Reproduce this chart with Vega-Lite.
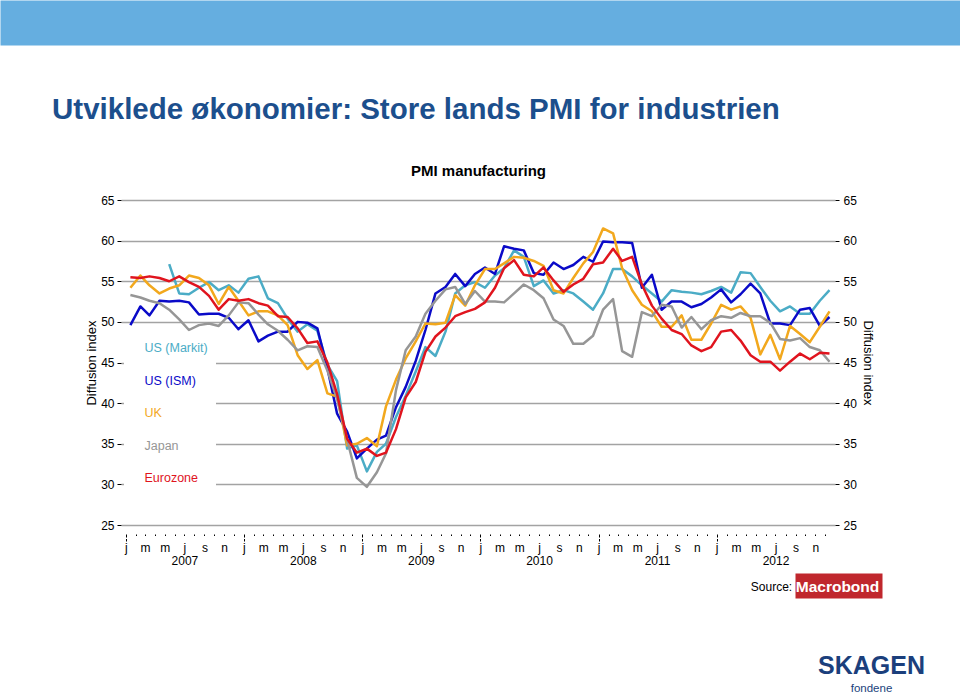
{
  "$schema": "https://vega.github.io/schema/vega-lite/v6.json",
  "width": 714,
  "height": 325,
  "autosize": {"type": "none"},
  "padding": {"left": 121, "top": 200, "right": 125, "bottom": 167},
  "background": "white",
  "config": {
    "font": "Liberation Sans, Arial, sans-serif",
    "view": {"stroke": null},
    "axis": {"labelFont": "Liberation Sans, Arial, sans-serif", "titleFont": "Liberation Sans, Arial, sans-serif", "labelColor": "#000", "titleColor": "#000"}
  },
  "title": {
    "text": "Utviklede økonomier: Store lands PMI for industrien",
    "anchor": "start",
    "frame": "group",
    "dx": -69,
    "dy": 166,
    "offset": 41,
    "fontSize": 29.5,
    "font": "Liberation Sans Narrow, Arial Narrow, Liberation Sans, Arial",
    "fontWeight": "bold",
    "color": "#1c4f8d"
  },
  "data": {
    "values": [
      {"d": "2007-01-15", "US (Markit)": null, "US (ISM)": 49.6, "UK": 54.2, "Japan": 53.3, "Eurozone": 55.5},
      {"d": "2007-02-15", "US (Markit)": null, "US (ISM)": 51.9, "UK": 55.7, "Japan": 53.0, "Eurozone": 55.4},
      {"d": "2007-03-15", "US (Markit)": null, "US (ISM)": 50.8, "UK": 54.5, "Japan": 52.6, "Eurozone": 55.6},
      {"d": "2007-04-15", "US (Markit)": null, "US (ISM)": 52.6, "UK": 53.5, "Japan": 52.3, "Eurozone": 55.4},
      {"d": "2007-05-15", "US (Markit)": 57.1, "US (ISM)": 52.5, "UK": 54.1, "Japan": 51.5, "Eurozone": 55.0},
      {"d": "2007-06-15", "US (Markit)": 53.5, "US (ISM)": 52.6, "UK": 54.5, "Japan": 50.3, "Eurozone": 55.6},
      {"d": "2007-07-15", "US (Markit)": 53.4, "US (ISM)": 52.4, "UK": 55.7, "Japan": 49.0, "Eurozone": 54.9},
      {"d": "2007-08-15", "US (Markit)": 54.2, "US (ISM)": 50.9, "UK": 55.4, "Japan": 49.6, "Eurozone": 54.3},
      {"d": "2007-09-15", "US (Markit)": 54.9, "US (ISM)": 51.0, "UK": 54.5, "Japan": 49.8, "Eurozone": 53.2},
      {"d": "2007-10-15", "US (Markit)": 53.9, "US (ISM)": 51.0, "UK": 52.2, "Japan": 49.5, "Eurozone": 51.5},
      {"d": "2007-11-15", "US (Markit)": 54.5, "US (ISM)": 50.5, "UK": 54.3, "Japan": 50.8, "Eurozone": 52.8},
      {"d": "2007-12-15", "US (Markit)": 53.6, "US (ISM)": 49.1, "UK": 52.6, "Japan": 52.4, "Eurozone": 52.6},
      {"d": "2008-01-15", "US (Markit)": 55.3, "US (ISM)": 50.2, "UK": 50.8, "Japan": 52.3, "Eurozone": 52.8},
      {"d": "2008-02-15", "US (Markit)": 55.6, "US (ISM)": 47.6, "UK": 51.3, "Japan": 50.9, "Eurozone": 52.3},
      {"d": "2008-03-15", "US (Markit)": 52.9, "US (ISM)": 48.3, "UK": 51.3, "Japan": 49.7, "Eurozone": 52.0},
      {"d": "2008-04-15", "US (Markit)": 52.3, "US (ISM)": 48.8, "UK": 50.8, "Japan": 48.9, "Eurozone": 50.7},
      {"d": "2008-05-15", "US (Markit)": 50.4, "US (ISM)": 48.8, "UK": 49.6, "Japan": 47.8, "Eurozone": 50.6},
      {"d": "2008-06-15", "US (Markit)": 48.8, "US (ISM)": 50.0, "UK": 45.9, "Japan": 46.5, "Eurozone": 49.2},
      {"d": "2008-07-15", "US (Markit)": 49.7, "US (ISM)": 49.9, "UK": 44.2, "Japan": 47.0, "Eurozone": 47.4},
      {"d": "2008-08-15", "US (Markit)": 48.9, "US (ISM)": 49.2, "UK": 45.3, "Japan": 46.9, "Eurozone": 47.6},
      {"d": "2008-09-15", "US (Markit)": 44.7, "US (ISM)": 44.3, "UK": 41.2, "Japan": 44.0, "Eurozone": 45.0},
      {"d": "2008-10-15", "US (Markit)": 42.7, "US (ISM)": 38.7, "UK": 40.8, "Japan": 40.5, "Eurozone": 41.1},
      {"d": "2008-11-15", "US (Markit)": 34.4, "US (ISM)": 36.5, "UK": 34.8, "Japan": 35.5, "Eurozone": 35.6},
      {"d": "2008-12-15", "US (Markit)": 34.8, "US (ISM)": 33.2, "UK": 35.0, "Japan": 30.8, "Eurozone": 33.9},
      {"d": "2009-01-15", "US (Markit)": 31.6, "US (ISM)": 34.4, "UK": 35.7, "Japan": 29.7, "Eurozone": 34.4},
      {"d": "2009-02-15", "US (Markit)": 34.0, "US (ISM)": 35.5, "UK": 34.7, "Japan": 31.5, "Eurozone": 33.5},
      {"d": "2009-03-15", "US (Markit)": 35.0, "US (ISM)": 36.0, "UK": 39.6, "Japan": 33.8, "Eurozone": 33.9},
      {"d": "2009-04-15", "US (Markit)": 38.3, "US (ISM)": 39.5, "UK": 42.9, "Japan": 41.6, "Eurozone": 36.8},
      {"d": "2009-05-15", "US (Markit)": 40.9, "US (ISM)": 42.0, "UK": 45.5, "Japan": 46.5, "Eurozone": 40.7},
      {"d": "2009-06-15", "US (Markit)": 43.9, "US (ISM)": 45.2, "UK": 47.6, "Japan": 48.2, "Eurozone": 42.6},
      {"d": "2009-07-15", "US (Markit)": 46.9, "US (ISM)": 49.0, "UK": 49.8, "Japan": 51.0, "Eurozone": 46.3},
      {"d": "2009-08-15", "US (Markit)": 45.8, "US (ISM)": 53.5, "UK": 49.7, "Japan": 52.6, "Eurozone": 48.2},
      {"d": "2009-09-15", "US (Markit)": 48.8, "US (ISM)": 54.3, "UK": 49.9, "Japan": 54.0, "Eurozone": 49.3},
      {"d": "2009-10-15", "US (Markit)": 53.5, "US (ISM)": 55.9, "UK": 53.3, "Japan": 54.3, "Eurozone": 50.7},
      {"d": "2009-11-15", "US (Markit)": 54.5, "US (ISM)": 54.4, "UK": 52.0, "Japan": 52.2, "Eurozone": 51.2},
      {"d": "2009-12-15", "US (Markit)": 54.9, "US (ISM)": 55.9, "UK": 54.5, "Japan": 53.8, "Eurozone": 51.6},
      {"d": "2010-01-15", "US (Markit)": 54.2, "US (ISM)": 56.7, "UK": 56.5, "Japan": 52.5, "Eurozone": 52.4},
      {"d": "2010-02-15", "US (Markit)": 55.7, "US (ISM)": 55.9, "UK": 56.5, "Japan": 52.5, "Eurozone": 54.2},
      {"d": "2010-03-15", "US (Markit)": 56.6, "US (ISM)": 59.3, "UK": 57.2, "Japan": 52.4, "Eurozone": 56.6},
      {"d": "2010-04-15", "US (Markit)": 58.8, "US (ISM)": 59.0, "UK": 58.0, "Japan": 53.5, "Eurozone": 57.6},
      {"d": "2010-05-15", "US (Markit)": 58.0, "US (ISM)": 58.8, "UK": 57.9, "Japan": 54.6, "Eurozone": 55.8},
      {"d": "2010-06-15", "US (Markit)": 54.4, "US (ISM)": 56.0, "UK": 57.5, "Japan": 53.9, "Eurozone": 55.6},
      {"d": "2010-07-15", "US (Markit)": 55.1, "US (ISM)": 55.8, "UK": 56.9, "Japan": 52.9, "Eurozone": 56.7},
      {"d": "2010-08-15", "US (Markit)": 53.5, "US (ISM)": 57.3, "UK": 53.9, "Japan": 50.3, "Eurozone": 55.1},
      {"d": "2010-09-15", "US (Markit)": 53.9, "US (ISM)": 56.5, "UK": 53.5, "Japan": 49.5, "Eurozone": 53.7},
      {"d": "2010-10-15", "US (Markit)": 53.5, "US (ISM)": 57.0, "UK": 55.4, "Japan": 47.3, "Eurozone": 54.6},
      {"d": "2010-11-15", "US (Markit)": 52.5, "US (ISM)": 58.0, "UK": 57.2, "Japan": 47.3, "Eurozone": 55.3},
      {"d": "2010-12-15", "US (Markit)": 51.5, "US (ISM)": 57.4, "UK": 58.6, "Japan": 48.3, "Eurozone": 57.1},
      {"d": "2011-01-15", "US (Markit)": 53.5, "US (ISM)": 59.9, "UK": 61.5, "Japan": 51.5, "Eurozone": 57.3},
      {"d": "2011-02-15", "US (Markit)": 56.5, "US (ISM)": 59.8, "UK": 60.9, "Japan": 52.8, "Eurozone": 59.0},
      {"d": "2011-03-15", "US (Markit)": 56.5, "US (ISM)": 59.8, "UK": 56.6, "Japan": 46.4, "Eurozone": 57.5},
      {"d": "2011-04-15", "US (Markit)": 55.6, "US (ISM)": 59.7, "UK": 53.9, "Japan": 45.7, "Eurozone": 58.0},
      {"d": "2011-05-15", "US (Markit)": 54.5, "US (ISM)": 54.2, "UK": 52.1, "Japan": 51.2, "Eurozone": 54.6},
      {"d": "2011-06-15", "US (Markit)": 53.5, "US (ISM)": 55.8, "UK": 51.3, "Japan": 50.7, "Eurozone": 52.0},
      {"d": "2011-07-15", "US (Markit)": 52.5, "US (ISM)": 51.5, "UK": 49.4, "Japan": 52.1, "Eurozone": 50.4},
      {"d": "2011-08-15", "US (Markit)": 53.9, "US (ISM)": 52.5, "UK": 49.4, "Japan": 51.9, "Eurozone": 49.0},
      {"d": "2011-09-15", "US (Markit)": 53.7, "US (ISM)": 52.5, "UK": 50.8, "Japan": 49.3, "Eurozone": 48.5},
      {"d": "2011-10-15", "US (Markit)": 53.6, "US (ISM)": 51.8, "UK": 47.8, "Japan": 50.6, "Eurozone": 47.1},
      {"d": "2011-11-15", "US (Markit)": 53.4, "US (ISM)": 52.2, "UK": 47.8, "Japan": 49.1, "Eurozone": 46.4},
      {"d": "2011-12-15", "US (Markit)": 53.8, "US (ISM)": 53.0, "UK": 49.8, "Japan": 50.2, "Eurozone": 46.9},
      {"d": "2012-01-15", "US (Markit)": 54.3, "US (ISM)": 54.0, "UK": 52.1, "Japan": 50.7, "Eurozone": 48.8},
      {"d": "2012-02-15", "US (Markit)": 53.6, "US (ISM)": 52.4, "UK": 51.5, "Japan": 50.5, "Eurozone": 49.0},
      {"d": "2012-03-15", "US (Markit)": 56.1, "US (ISM)": 53.4, "UK": 51.9, "Japan": 51.1, "Eurozone": 47.7},
      {"d": "2012-04-15", "US (Markit)": 56.0, "US (ISM)": 54.7, "UK": 50.5, "Japan": 50.7, "Eurozone": 45.9},
      {"d": "2012-05-15", "US (Markit)": 54.3, "US (ISM)": 53.5, "UK": 46.0, "Japan": 50.7, "Eurozone": 45.1},
      {"d": "2012-06-15", "US (Markit)": 52.6, "US (ISM)": 49.8, "UK": 48.4, "Japan": 49.9, "Eurozone": 45.1},
      {"d": "2012-07-15", "US (Markit)": 51.3, "US (ISM)": 49.8, "UK": 45.4, "Japan": 47.9, "Eurozone": 44.0},
      {"d": "2012-08-15", "US (Markit)": 51.9, "US (ISM)": 49.6, "UK": 49.5, "Japan": 47.7, "Eurozone": 45.1},
      {"d": "2012-09-15", "US (Markit)": 51.0, "US (ISM)": 51.5, "UK": 48.5, "Japan": 48.0, "Eurozone": 46.1},
      {"d": "2012-10-15", "US (Markit)": 51.0, "US (ISM)": 51.7, "UK": 47.5, "Japan": 46.9, "Eurozone": 45.4},
      {"d": "2012-11-15", "US (Markit)": 52.6, "US (ISM)": 49.5, "UK": 49.4, "Japan": 46.5, "Eurozone": 46.2},
      {"d": "2012-12-15", "US (Markit)": 53.9, "US (ISM)": 50.6, "UK": 51.3, "Japan": 45.1, "Eurozone": 46.1}
    ]
  },
  "transform": [
    {"fold": ["US (Markit)", "US (ISM)", "UK", "Japan", "Eurozone"], "as": ["series", "value"]}
  ],
  "layer": [
    {
      "mark": {"type": "line", "strokeWidth": 2.5, "strokeJoin": "round"},
      "encoding": {
        "x": {
          "field": "d", "type": "temporal",
          "scale": {"domain": [{"year": 2006, "month": 12, "date": 17}, {"year": 2012, "month": 12, "date": 31, "hours": 23}]},
          "axis": {
            "orient": "bottom", "grid": false, "domain": false, "offset": 9, "zindex": 2,
            "tickCount": {"interval": "month", "step": 1},
            "tickSize": 7, "tickColor": "#000", "tickWidth": 1,
            "tickDash": {"condition": {"test": "month(datum.value) == 0", "value": [3, 1.5]}, "value": [1.5, 20]},
            "labelExpr": "month(datum.value) % 2 == 0 ? lower(slice(timeFormat(datum.value, '%b'), 0, 1)) : ''",
            "labelFontSize": 12, "labelPadding": 1, "labelFlush": false, "labelOverlap": false,
            "title": "Macrobond", "titleX": 716, "titleY": 57, "titleAlign": "center", "titleBaseline": "alphabetic",
            "titleColor": "white", "titleFontWeight": "bold", "titleFontSize": 15.5
          }
        },
        "y": {
          "field": "value", "type": "quantitative",
          "scale": {"domain": [25, 65], "nice": false, "zero": false},
          "axis": {
            "orient": "left", "values": [25, 30, 35, 40, 45, 50, 55, 60, 65],
            "grid": true, "gridColor": "#a3a3a3", "gridWidth": 1.5, "domain": false,
            "tickSize": 4, "tickColor": "#000", "labelFontSize": 12, "labelPadding": 3,
            "title": "Diffusion index", "titleFontSize": 13, "titleFontWeight": "normal", "titlePadding": 2
          }
        },
        "color": {
          "field": "series", "type": "nominal",
          "scale": {
            "domain": ["US (Markit)", "US (ISM)", "UK", "Japan", "Eurozone"],
            "range": ["#4bacc6", "#0a0ac8", "#f2a81d", "#969696", "#e0141e"]
          },
          "legend": {
            "orient": "none", "legendX": 3, "legendY": 134, "title": null,
            "symbolSize": 0, "symbolOpacity": 0, "symbolStrokeWidth": 0, "labelOffset": 0,
            "labelFontSize": 12.5, "rowPadding": 19.5, "padding": 8, "fillColor": "white",
            "encode": {"labels": {"update": {"fill": {"scale": "color", "field": "value"}}}}
          }
        }
      }
    },
    {
      "mark": {"type": "point", "opacity": 0},
      "encoding": {
        "x": {
          "field": "d", "type": "temporal",
          "axis": {
            "orient": "bottom", "grid": false, "domain": false, "ticks": false, "offset": 9,
            "values": [{"year": 2007, "month": 7, "date": 1}, {"year": 2008, "month": 7, "date": 1}, {"year": 2009, "month": 7, "date": 1}, {"year": 2010, "month": 7, "date": 1}, {"year": 2011, "month": 7, "date": 1}, {"year": 2012, "month": 7, "date": 1}],
            "format": "%Y", "labelFontSize": 12, "labelPadding": 21, "labelFlush": false, "labelOverlap": false,
            "title": "Source:", "titleX": 650, "titleY": 56, "titleAlign": "center", "titleBaseline": "alphabetic",
            "titleFontSize": 12, "titleFontWeight": "normal"
          }
        },
        "y": {
          "field": "value", "type": "quantitative",
          "axis": {
            "orient": "right", "values": [25, 30, 35, 40, 45, 50, 55, 60, 65],
            "grid": false, "domain": false, "tickSize": 4, "tickColor": "#000",
            "labelFontSize": 12, "labelPadding": 4,
            "title": "Diffusion index", "titleFontSize": 13, "titleFontWeight": "normal", "titlePadding": 4
          }
        }
      }
    },
    {
      "mark": {"type": "point", "opacity": 0},
      "encoding": {
        "x": {
          "field": "d", "type": "temporal",
          "axis": {
            "orient": "top", "title": "PMI manufacturing", "grid": false, "domain": false, "ticks": false, "labels": false,
            "titleFontSize": 15, "titleFontWeight": "bold", "titlePadding": 22
          }
        },
        "y": {
          "field": "value", "type": "quantitative",
          "axis": {
            "orient": "left", "offset": -761, "values": [25], "tickOffset": 60.5, "grid": false, "domain": false, "labels": false, "title": null,
            "tickSize": 87, "tickWidth": 25, "tickColor": "#c0272d", "tickRound": false
          }
        }
      }
    },
    {
      "mark": {"type": "point", "opacity": 0},
      "encoding": {
        "x": {
          "field": "d", "type": "temporal",
          "axis": {
            "orient": "bottom", "grid": false, "domain": false, "ticks": false, "labels": false, "offset": 9,
            "title": "SKAGEN", "titleX": 750, "titleY": 139, "titleAlign": "center", "titleBaseline": "alphabetic",
            "titleFontSize": 25, "titleFontWeight": "bold", "titleColor": "#1b3f7c"
          }
        },
        "y": {
          "field": "value", "type": "quantitative",
          "axis": {
            "orient": "left", "offset": -839, "values": [65], "tickOffset": -177.5, "grid": false, "domain": false, "labels": false, "title": null,
            "tickSize": 960, "tickWidth": 45, "tickColor": "#65aee0", "tickRound": false
          }
        }
      }
    },
    {
      "mark": {"type": "point", "opacity": 0},
      "encoding": {
        "x": {
          "field": "d", "type": "temporal",
          "axis": {
            "orient": "bottom", "grid": false, "domain": false, "ticks": false, "labels": false, "offset": 9,
            "title": "fondene", "titleX": 750, "titleY": 157, "titleAlign": "center", "titleBaseline": "alphabetic",
            "titleFontSize": 11.5, "titleFontWeight": "normal", "titleColor": "#1b3f7c"
          }
        },
        "y": {"field": "value", "type": "quantitative", "axis": null}
      }
    }
  ],
  "resolve": {"axis": {"x": "independent", "y": "independent"}}
}
